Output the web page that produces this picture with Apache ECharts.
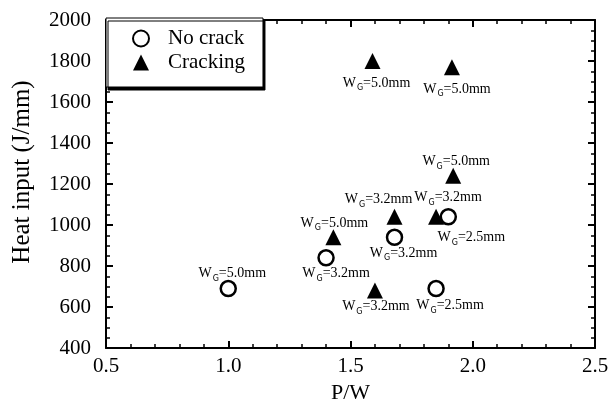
<!DOCTYPE html>
<html>
<head>
<meta charset="utf-8">
<script src="https://cdn.jsdelivr.net/npm/echarts@6/dist/echarts.min.js"></script>
<style>
  html, body { margin: 0; padding: 0; background: #fff; }
  #main { width: 612px; height: 400px; }
</style>
</head>
<body>
<div id="main"></div>
<script>
// P/W vs heat input
const noCrackX = [1.0, 1.40, 1.68, 1.90, 1.85];
const noCrackY = [690, 840, 940, 1040, 690];
const noCrackWg = ["5.0", "3.2", "3.2", "2.5", "2.5"];

const crackX = [1.59, 1.915, 1.92, 1.68, 1.85, 1.43, 1.60];
const crackY = [1800, 1770, 1240, 1040, 1040, 940, 680];
const crackWg = ["5.0", "5.0", "5.0", "3.2", "3.2", "5.0", "3.2"];

// label offsets (px) for each point, same order as above
const noCrackLabelOff = [[4, -15], [10, 16], [9, 16], [23, 21], [14, 17]];
const crackLabelOff = [[4, 22], [5, 22], [3, -14], [-16, -17], [12, -19], [1, -14], [1, 16]];

const serif = "Liberation Serif";

function wgLabel(wg) {
  return "{w|W}{g|G}{t|=" + wg + "mm}";
}

function buildData(xs, ys, wgs, offs) {
  return xs.map(function (x, i) {
    return {
      value: [x, ys[i]],
      label: { offset: offs[i], formatter: wgLabel(wgs[i]) },
    };
  });
}

const labelRich = {
  w: { fontFamily: serif, fontSize: 14, color: "#000" },
  g: { fontFamily: "DejaVu Sans", fontSize: 8, color: "#000", padding: [10, 0, 0, 1] },
  t: { fontFamily: serif, fontSize: 14, color: "#000" },
};

function makeAxis(dir, pos, showLabel) {
  const isX = dir === "x";
  const ax = {
    type: "value",
    position: pos,
    min: isX ? 0.5 : 400,
    max: isX ? 2.5 : 2000,
    interval: isX ? 0.5 : 200,
    axisLine: { show: true, onZero: false, lineStyle: { color: "#000", width: 2 } },
    axisTick: { show: true, inside: true, length: 7, lineStyle: { color: "#000", width: 2 } },
    minorTick: { show: true, splitNumber: isX ? 5 : 4, length: 4, lineStyle: { color: "#000", width: 1.5 } },
    splitLine: { show: false },
    minorSplitLine: { show: false },
    axisLabel: { show: false },
  };
  if (showLabel) {
    ax.axisLabel = {
      show: true,
      fontFamily: serif,
      fontSize: 21,
      color: "#000",
      margin: isX ? 8 : 15,
      formatter: function (v) { return isX ? v.toFixed(1) : String(v); },
    };
  }
  return ax;
}

const xBottom = makeAxis("x", "bottom", true);
xBottom.name = "P/W";
xBottom.nameLocation = "middle";
xBottom.nameGap = 28;
xBottom.nameTextStyle = { fontFamily: serif, fontSize: 22, color: "#000" };

const chart = echarts.init(document.getElementById("main"));

const option = {
  animation: false,
  backgroundColor: "#fff",
  grid: { left: 106, right: 17, top: 20, bottom: 52, containLabel: false, outerBoundsMode: "none" },
  legend: {
    left: 106,
    top: 18,
    orient: "vertical",
    itemGap: 3,
    itemWidth: 16,
    itemHeight: 16,
    padding: [10, 18, 14, 26],
    backgroundColor: "#fff",
    borderColor: "#000",
    borderWidth: 1,
    shadowColor: "#000",
    shadowOffsetX: 2,
    shadowOffsetY: 3,
    shadowBlur: 0.1,
    textStyle: { fontFamily: serif, fontSize: 21, color: "#000", padding: [0, 0, 0, 14] },
    data: ["No crack", "Cracking"],
  },
  graphic: [
    {
      type: "text",
      x: 22,
      y: 172,
      rotation: Math.PI / 2,
      style: {
        text: "Heat input (J/mm)",
        fontFamily: serif,
        fontSize: 25,
        fill: "#000",
        align: "center",
        verticalAlign: "middle",
      },
    },
  ],
  xAxis: [xBottom, makeAxis("x", "top", false)],
  yAxis: [makeAxis("y", "left", true), makeAxis("y", "right", false)],
  series: [
    {
      name: "No crack",
      type: "scatter",
      symbol: "circle",
      symbolSize: 15,
      itemStyle: { color: "#fff", borderColor: "#000", borderWidth: 2.5, opacity: 1 },
      label: { show: true, position: "inside", rich: labelRich },
      data: buildData(noCrackX, noCrackY, noCrackWg, noCrackLabelOff),
      z: 3,
    },
    {
      name: "Cracking",
      type: "scatter",
      symbol: "triangle",
      symbolSize: 16,
      itemStyle: { color: "#000", opacity: 1 },
      label: { show: true, position: "inside", rich: labelRich },
      data: buildData(crackX, crackY, crackWg, crackLabelOff),
      z: 4,
    },
  ],
};

chart.setOption(option);
</script>
</body>
</html>
